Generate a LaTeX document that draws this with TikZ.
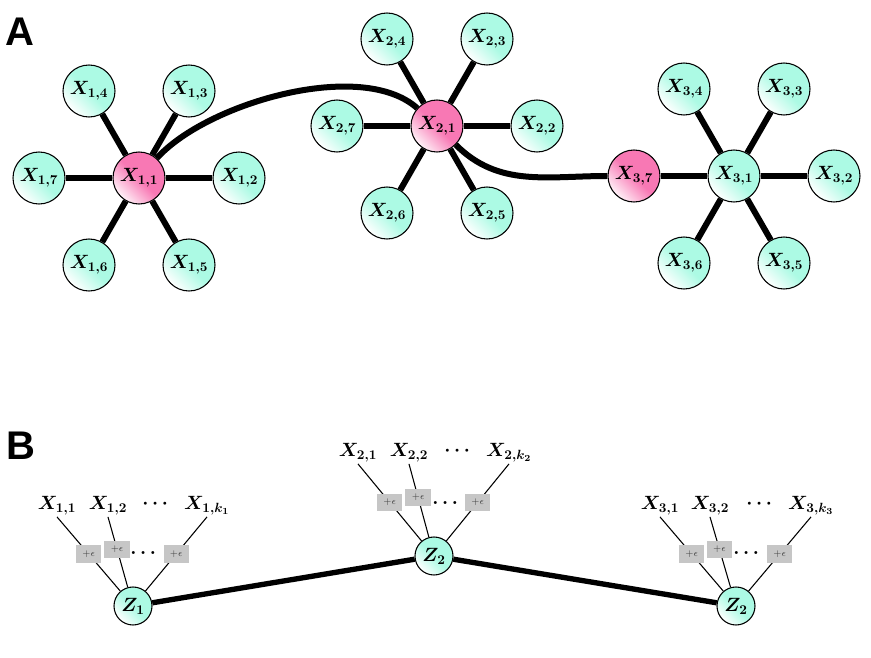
\documentclass[tikz,border=0pt]{standalone}
\usepackage{amsmath}
\usepackage{amssymb}
\usepackage{fontspec}
\newfontfamily\panelfont{Liberation Sans}
\usepackage{tikz}
\usetikzlibrary{arrows, arrows.meta}
\definecolor{mint}{RGB}{172,250,228}
\definecolor{rose}{RGB}{248,120,180}
\tikzset{vertex/.style = {shape = circle, draw, line width = 0.8pt, minimum size = 39pt, inner sep = 0pt, top color = mint, bottom color = white, middle color = mint, shading angle = -45, font = \fontsize{14}{14}\selectfont}}
\tikzset{hub/.style = {vertex, top color = rose, bottom color = rose!10, middle color = rose, shading angle = -45}}
\tikzset{latent/.style = {vertex, minimum size = 28.5pt}}
\tikzset{edge/.style = {-, line width = 4.5pt}}
\tikzset{link/.style = {-, line width = 0.8pt}}
\tikzset{noise/.style = {fill = gray!45, minimum width = 19pt, minimum height = 13pt, inner sep = 0pt, font = \scriptsize, text = black!75}}
\tikzset{obs/.style = {font = \fontsize{14.5}{14.5}\selectfont, inner sep = 1pt}}
\tikzset{panel/.style = {font = \panelfont\bfseries\fontsize{30}{30}\selectfont}}

\begin{document}
\begin{tikzpicture}[x = 0.75pt, y = 0.75pt]
			\useasboundingbox (0, 0) rectangle (871, 657);

			\node[panel] (pa) at (20, 625) {A};
			\node[panel] (pb) at (21, 211) {B};

			% group 1
			\node[hub] (x11) at (139, 479) {$\boldsymbol{X_{1,1}}$};
			\node[vertex] (x12) at (239, 479) {$\boldsymbol{X_{1,2}}$};
			\node[vertex] (x13) at (189, 566) {$\boldsymbol{X_{1,3}}$};
			\node[vertex] (x14) at (89, 566) {$\boldsymbol{X_{1,4}}$};
			\node[vertex] (x15) at (189, 392) {$\boldsymbol{X_{1,5}}$};
			\node[vertex] (x16) at (89, 392) {$\boldsymbol{X_{1,6}}$};
			\node[vertex] (x17) at (39, 479) {$\boldsymbol{X_{1,7}}$};

			% group 2
			\node[hub] (x21) at (437, 531) {$\boldsymbol{X_{2,1}}$};
			\node[vertex] (x22) at (537, 531) {$\boldsymbol{X_{2,2}}$};
			\node[vertex] (x23) at (487, 618) {$\boldsymbol{X_{2,3}}$};
			\node[vertex] (x24) at (387, 618) {$\boldsymbol{X_{2,4}}$};
			\node[vertex] (x25) at (487, 444) {$\boldsymbol{X_{2,5}}$};
			\node[vertex] (x26) at (387, 444) {$\boldsymbol{X_{2,6}}$};
			\node[vertex] (x27) at (337, 531) {$\boldsymbol{X_{2,7}}$};

			% group 3
			\node[vertex] (x31) at (734, 481) {$\boldsymbol{X_{3,1}}$};
			\node[vertex] (x32) at (834, 481) {$\boldsymbol{X_{3,2}}$};
			\node[vertex] (x33) at (784, 568) {$\boldsymbol{X_{3,3}}$};
			\node[vertex] (x34) at (684, 568) {$\boldsymbol{X_{3,4}}$};
			\node[vertex] (x35) at (784, 394) {$\boldsymbol{X_{3,5}}$};
			\node[vertex] (x36) at (684, 394) {$\boldsymbol{X_{3,6}}$};
			\node[hub] (x37) at (634, 481) {$\boldsymbol{X_{3,7}}$};

			\draw[edge] (x11) to (x12);
			\draw[edge] (x11) to (x13);
			\draw[edge] (x11) to (x14);
			\draw[edge] (x11) to (x15);
			\draw[edge] (x11) to (x16);
			\draw[edge] (x11) to (x17);

			\draw[edge] (x21) to (x22);
			\draw[edge] (x21) to (x23);
			\draw[edge] (x21) to (x24);
			\draw[edge] (x21) to (x25);
			\draw[edge] (x21) to (x26);
			\draw[edge] (x21) to (x27);

			\draw[edge] (x31) to (x32);
			\draw[edge] (x31) to (x33);
			\draw[edge] (x31) to (x34);
			\draw[edge] (x31) to (x35);
			\draw[edge] (x31) to (x36);
			\draw[edge] (x31) to (x37);

			\draw[edge] (x11) to[out = 48, in = 138, looseness = 0.72] (x21);
			\draw[edge] (x21) to[out = -45, in = 180] (x37);

			% panel B
			\node[latent] (z1) at (133, 51) {$\boldsymbol{Z_1}$};
			\node[latent] (z2) at (434, 101) {$\boldsymbol{Z_2}$};
			\node[latent] (z3) at (736, 51) {$\boldsymbol{Z_2}$};

			\node[obs] (y11) at (57, 151) {$\boldsymbol{X_{1,1}}$};
			\node[obs] (y12) at (108, 151) {$\boldsymbol{X_{1,2}}$};
			\node[obs] (c1) at (157, 153) {$\boldsymbol{\cdots}$};
			\node[obs] (y1k) at (207, 151) {$\boldsymbol{X_{1,k_1}}$};

			\node[obs] (y21) at (358, 204) {$\boldsymbol{X_{2,1}}$};
			\node[obs] (y22) at (409, 204) {$\boldsymbol{X_{2,2}}$};
			\node[obs] (c2) at (459, 206) {$\boldsymbol{\cdots}$};
			\node[obs] (y2k) at (509, 204) {$\boldsymbol{X_{2,k_2}}$};

			\node[obs] (y31) at (660, 151) {$\boldsymbol{X_{3,1}}$};
			\node[obs] (y32) at (710, 151) {$\boldsymbol{X_{3,2}}$};
			\node[obs] (c3) at (761, 153) {$\boldsymbol{\cdots}$};
			\node[obs] (y3k) at (811, 151) {$\boldsymbol{X_{3,k_3}}$};

			\draw[link] (y11.south) -- node[noise, pos = 0.5] (e11) {$+\epsilon$} (z1);
			\draw[link] (y12.south) -- node[noise, pos = 0.46] (e12) {$+\epsilon$} (z1);
			\draw[link] (y1k.south) -- node[noise, pos = 0.5] (e1k) {$+\epsilon$} (z1);
			\node[obs] (d1) at (145, 104) {$\boldsymbol{\dots}$};

			\draw[link] (y21.south) -- node[noise, pos = 0.5] (e21) {$+\epsilon$} (z2);
			\draw[link] (y22.south) -- node[noise, pos = 0.46] (e22) {$+\epsilon$} (z2);
			\draw[link] (y2k.south) -- node[noise, pos = 0.5] (e2k) {$+\epsilon$} (z2);
			\node[obs] (d2) at (447, 154) {$\boldsymbol{\dots}$};

			\draw[link] (y31.south) -- node[noise, pos = 0.5] (e31) {$+\epsilon$} (z3);
			\draw[link] (y32.south) -- node[noise, pos = 0.46] (e32) {$+\epsilon$} (z3);
			\draw[link] (y3k.south) -- node[noise, pos = 0.5] (e3k) {$+\epsilon$} (z3);
			\node[obs] (d3) at (748, 104) {$\boldsymbol{\dots}$};

			\draw[edge, line width = 4pt] (z1) -- (z2);
			\draw[edge, line width = 4pt] (z2) -- (z3);
		\end{tikzpicture}
\end{document}
